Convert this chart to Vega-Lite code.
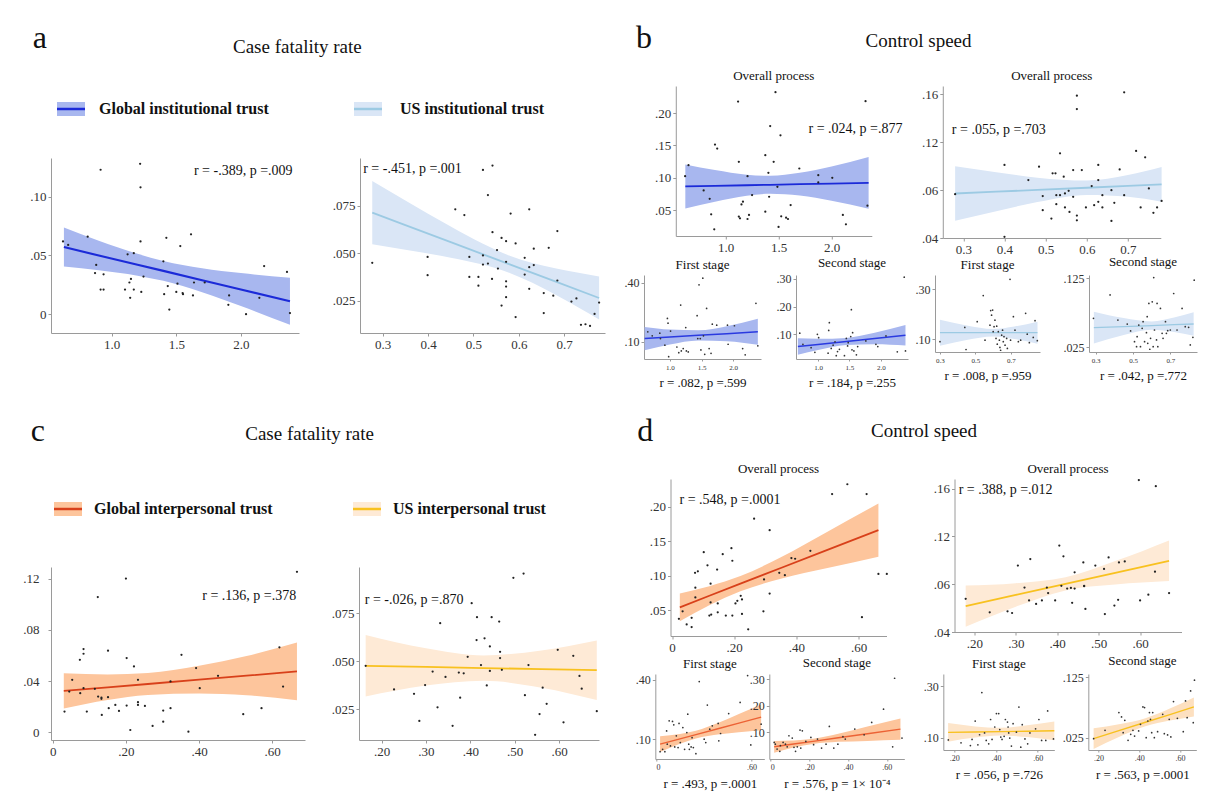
{
"$schema": "https://vega.github.io/schema/vega-lite/v6.json",
"background": "white",
"padding": {"left": 22, "top": 22, "right": 4, "bottom": 4},
"config": {
 "view": {"stroke": null},
 "font": "Liberation Serif",
 "axis": {"labelFont": "Liberation Serif", "labelFontSize": 13, "labelColor": "#333", "domainColor": "#9a9a9a", "tickColor": "#9a9a9a", "tickSize": 3, "labelPadding": 2, "grid": false, "titleFont": "Liberation Serif", "titleFontWeight": "normal", "titleColor": "#111", "titleFontSize": 13},
 "title": {"font": "Liberation Serif", "fontWeight": "normal", "color": "#111"},
 "text": {"font": "Liberation Serif"}
},
"datasets": {
 "a1b": [{"x":0.63,"lo":0.0406,"fit":0.0572,"hi":0.0738},{"x":0.9,"lo":0.0374,"fit":0.05,"hi":0.0626},{"x":1.2,"lo":0.0328,"fit":0.0421,"hi":0.0514},{"x":1.4,"lo":0.0284,"fit":0.0369,"hi":0.0454},{"x":1.7,"lo":0.0188,"fit":0.0289,"hi":0.0391},{"x":2.0,"lo":0.007,"fit":0.021,"hi":0.035},{"x":2.38,"lo":-0.009,"fit":0.011,"hi":0.031}],
 "a1p": [{"x":0.623,"y":0.062},{"x":0.663,"y":0.059},{"x":0.814,"y":0.066},{"x":0.914,"y":0.123},{"x":0.88,"y":0.042},{"x":0.871,"y":0.035},{"x":0.937,"y":0.034},{"x":0.914,"y":0.021},{"x":0.937,"y":0.021},{"x":1.103,"y":0.021},{"x":1.123,"y":0.051},{"x":1.137,"y":0.027},{"x":1.149,"y":0.03},{"x":1.143,"y":0.014},{"x":1.171,"y":0.021},{"x":1.171,"y":0.052},{"x":1.22,"y":0.128},{"x":1.223,"y":0.108},{"x":1.223,"y":0.062},{"x":1.229,"y":0.019},{"x":1.246,"y":0.032},{"x":1.4,"y":0.045},{"x":1.423,"y":0.065},{"x":1.406,"y":0.017},{"x":1.434,"y":0.024},{"x":1.446,"y":0.004},{"x":1.5,"y":0.019},{"x":1.509,"y":0.026},{"x":1.531,"y":0.058},{"x":1.549,"y":0.018},{"x":1.552,"y":0.017},{"x":1.614,"y":0.068},{"x":1.637,"y":0.027},{"x":1.629,"y":0.016},{"x":1.72,"y":0.027},{"x":1.903,"y":0.008},{"x":1.909,"y":0.016},{"x":2.04,"y":0.0},{"x":2.143,"y":0.014},{"x":2.18,"y":0.041},{"x":2.357,"y":0.036},{"x":2.38,"y":0.001}],
 "a2b": [{"x":0.277,"lo":0.0547,"fit":0.0713,"hi":0.0879},{"x":0.35,"lo":0.0518,"fit":0.0647,"hi":0.0777},{"x":0.45,"lo":0.0476,"fit":0.0558,"hi":0.064},{"x":0.52,"lo":0.044,"fit":0.0495,"hi":0.055},{"x":0.58,"lo":0.0396,"fit":0.0441,"hi":0.0486},{"x":0.63,"lo":0.0344,"fit":0.0396,"hi":0.0448},{"x":0.68,"lo":0.0282,"fit":0.0351,"hi":0.042},{"x":0.777,"lo":0.0151,"fit":0.0264,"hi":0.0377}],
 "a2p": [{"x":0.277,"y":0.0449},{"x":0.399,"y":0.048},{"x":0.399,"y":0.0384},{"x":0.46,"y":0.073},{"x":0.48,"y":0.07},{"x":0.491,"y":0.048},{"x":0.491,"y":0.0375},{"x":0.511,"y":0.0375},{"x":0.511,"y":0.0329},{"x":0.521,"y":0.0937},{"x":0.521,"y":0.0488},{"x":0.521,"y":0.044},{"x":0.532,"y":0.0805},{"x":0.532,"y":0.0445},{"x":0.541,"y":0.0364},{"x":0.542,"y":0.096},{"x":0.542,"y":0.061},{"x":0.552,"y":0.0516},{"x":0.554,"y":0.0419},{"x":0.562,"y":0.058},{"x":0.562,"y":0.0224},{"x":0.572,"y":0.0563},{"x":0.572,"y":0.0454},{"x":0.572,"y":0.0352},{"x":0.572,"y":0.0324},{"x":0.572,"y":0.0268},{"x":0.582,"y":0.0708},{"x":0.593,"y":0.0551},{"x":0.593,"y":0.0164},{"x":0.613,"y":0.0475},{"x":0.613,"y":0.0387},{"x":0.623,"y":0.073},{"x":0.623,"y":0.0426},{"x":0.623,"y":0.0312},{"x":0.633,"y":0.0523},{"x":0.633,"y":0.0437},{"x":0.655,"y":0.029},{"x":0.655,"y":0.0185},{"x":0.666,"y":0.0528},{"x":0.676,"y":0.0276},{"x":0.685,"y":0.0616},{"x":0.685,"y":0.0356},{"x":0.716,"y":0.0245},{"x":0.727,"y":0.0262},{"x":0.737,"y":0.0123},{"x":0.747,"y":0.0126},{"x":0.757,"y":0.0117},{"x":0.767,"y":0.018},{"x":0.777,"y":0.024}],
 "b1b": [{"x":0.62,"lo":0.0526,"fit":0.0866,"hi":0.1206},{"x":0.9,"lo":0.063,"fit":0.0875,"hi":0.112},{"x":1.2,"lo":0.0723,"fit":0.0885,"hi":0.1047},{"x":1.42,"lo":0.0754,"fit":0.0892,"hi":0.103},{"x":1.7,"lo":0.0726,"fit":0.0902,"hi":0.1078},{"x":2.0,"lo":0.0647,"fit":0.0911,"hi":0.1175},{"x":2.35,"lo":0.0523,"fit":0.0923,"hi":0.1323}],
 "b1p": [{"x":0.618,"y":0.1026},{"x":0.65,"y":0.1195},{"x":0.793,"y":0.0805},{"x":0.85,"y":0.0676},{"x":0.864,"y":0.0435},{"x":0.893,"y":0.0204},{"x":0.9,"y":0.1514},{"x":0.921,"y":0.1452},{"x":1.125,"y":0.1247},{"x":1.125,"y":0.04},{"x":1.118,"y":0.218},{"x":1.15,"y":0.0589},{"x":1.164,"y":0.063},{"x":1.136,"y":0.0373},{"x":1.207,"y":0.1026},{"x":1.221,"y":0.0425},{"x":1.207,"y":0.0363},{"x":1.25,"y":0.0733},{"x":1.375,"y":0.135},{"x":1.375,"y":0.0476},{"x":1.404,"y":0.1077},{"x":1.411,"y":0.0707},{"x":1.421,"y":0.18},{"x":1.454,"y":0.1247},{"x":1.471,"y":0.2325},{"x":1.489,"y":0.0861},{"x":1.518,"y":0.1657},{"x":1.525,"y":0.0404},{"x":1.5,"y":0.024},{"x":1.571,"y":0.0384},{"x":1.589,"y":0.0363},{"x":1.614,"y":0.0579},{"x":1.696,"y":0.1144},{"x":1.875,"y":0.1041},{"x":1.875,"y":0.0928},{"x":2.007,"y":0.1},{"x":2.107,"y":0.0425},{"x":2.136,"y":0.0281},{"x":2.321,"y":0.2186},{"x":2.339,"y":0.0569}],
 "b2b": [{"x":0.28,"lo":0.0544,"fit":0.0772,"hi":0.1},{"x":0.38,"lo":0.0624,"fit":0.0787,"hi":0.095},{"x":0.48,"lo":0.07,"fit":0.0802,"hi":0.0904},{"x":0.6,"lo":0.076,"fit":0.082,"hi":0.088},{"x":0.7,"lo":0.0745,"fit":0.0836,"hi":0.0927},{"x":0.782,"lo":0.0703,"fit":0.0848,"hi":0.0993}],
 "b2p": [{"x":0.28,"y":0.0766},{"x":0.4,"y":0.041},{"x":0.4,"y":0.101},{"x":0.458,"y":0.0884},{"x":0.484,"y":0.0996},{"x":0.493,"y":0.075},{"x":0.493,"y":0.0632},{"x":0.514,"y":0.0562},{"x":0.517,"y":0.094},{"x":0.524,"y":0.094},{"x":0.526,"y":0.0758},{"x":0.526,"y":0.0683},{"x":0.535,"y":0.1108},{"x":0.535,"y":0.0758},{"x":0.544,"y":0.0912},{"x":0.547,"y":0.0772},{"x":0.547,"y":0.0655},{"x":0.556,"y":0.0794},{"x":0.558,"y":0.0618},{"x":0.567,"y":0.0968},{"x":0.567,"y":0.0744},{"x":0.576,"y":0.1589},{"x":0.576,"y":0.1477},{"x":0.576,"y":0.0587},{"x":0.576,"y":0.0548},{"x":0.588,"y":0.0968},{"x":0.598,"y":0.0655},{"x":0.612,"y":0.0834},{"x":0.618,"y":0.0674},{"x":0.628,"y":0.101},{"x":0.628,"y":0.0884},{"x":0.628,"y":0.0702},{"x":0.638,"y":0.0758},{"x":0.638,"y":0.0655},{"x":0.66,"y":0.08},{"x":0.66,"y":0.0543},{"x":0.667,"y":0.0694},{"x":0.68,"y":0.0973},{"x":0.691,"y":0.1617},{"x":0.691,"y":0.0758},{"x":0.72,"y":0.1127},{"x":0.731,"y":0.0655},{"x":0.742,"y":0.1074},{"x":0.751,"y":0.0814},{"x":0.762,"y":0.061},{"x":0.771,"y":0.0655},{"x":0.782,"y":0.071}],
 "b3b": [{"x":0.6,"lo":0.058,"fit":0.117,"hi":0.176},{"x":1.0,"lo":0.0868,"fit":0.1248,"hi":0.1628},{"x":1.45,"lo":0.1073,"fit":0.1333,"hi":0.1593},{"x":1.9,"lo":0.1038,"fit":0.1418,"hi":0.1798},{"x":2.39,"lo":0.085,"fit":0.151,"hi":0.217}],
 "b3p": [{"x":0.65,"y":0.151},{"x":0.72,"y":0.131},{"x":0.84,"y":0.144},{"x":0.85,"y":0.117},{"x":0.92,"y":0.083},{"x":0.96,"y":0.219},{"x":0.97,"y":0.195},{"x":0.98,"y":0.025},{"x":1.01,"y":0.155},{"x":1.11,"y":0.074},{"x":1.14,"y":0.045},{"x":1.17,"y":0.287},{"x":1.18,"y":0.054},{"x":1.21,"y":0.066},{"x":1.25,"y":0.173},{"x":1.26,"y":0.054},{"x":1.29,"y":0.049},{"x":1.43,"y":0.233},{"x":1.44,"y":0.117},{"x":1.46,"y":0.39},{"x":1.48,"y":0.117},{"x":1.49,"y":0.059},{"x":1.52,"y":0.424},{"x":1.53,"y":0.131},{"x":1.55,"y":0.037},{"x":1.58,"y":0.27},{"x":1.62,"y":0.066},{"x":1.65,"y":0.042},{"x":1.67,"y":0.19},{"x":1.74,"y":0.185},{"x":1.91,"y":0.185},{"x":1.92,"y":0.088},{"x":2.02,"y":0.182},{"x":2.15,"y":0.066},{"x":2.19,"y":0.034},{"x":2.36,"y":0.296},{"x":2.39,"y":0.08}],
 "b4b": [{"x":0.68,"lo":0.026,"fit":0.056,"hi":0.086},{"x":1.0,"lo":0.0431,"fit":0.0636,"hi":0.0841},{"x":1.45,"lo":0.0612,"fit":0.0742,"hi":0.0872},{"x":1.9,"lo":0.0643,"fit":0.0848,"hi":0.1053},{"x":2.39,"lo":0.0594,"fit":0.0964,"hi":0.1334}],
 "b4p": [{"x":0.71,"y":0.104},{"x":0.76,"y":0.064},{"x":0.89,"y":0.052},{"x":0.95,"y":0.035},{"x":0.99,"y":0.1},{"x":1.01,"y":0.088},{"x":1.16,"y":0.032},{"x":1.17,"y":0.114},{"x":1.18,"y":0.142},{"x":1.21,"y":0.049},{"x":1.24,"y":0.061},{"x":1.27,"y":0.073},{"x":1.29,"y":0.023},{"x":1.31,"y":0.038},{"x":1.34,"y":0.046},{"x":1.42,"y":0.023},{"x":1.45,"y":0.085},{"x":1.47,"y":0.058},{"x":1.48,"y":0.07},{"x":1.52,"y":0.092},{"x":1.53,"y":0.189},{"x":1.54,"y":0.044},{"x":1.55,"y":0.106},{"x":1.57,"y":0.04},{"x":1.61,"y":0.026},{"x":1.63,"y":0.056},{"x":1.76,"y":0.076},{"x":1.92,"y":0.064},{"x":1.95,"y":0.056},{"x":2.08,"y":0.094},{"x":2.26,"y":0.037},{"x":2.37,"y":0.306},{"x":2.39,"y":0.04}],
 "b5b": [{"x":0.3,"lo":0.075,"fit":0.127,"hi":0.179},{"x":0.45,"lo":0.098,"fit":0.127,"hi":0.156},{"x":0.6,"lo":0.112,"fit":0.127,"hi":0.142},{"x":0.72,"lo":0.102,"fit":0.127,"hi":0.152},{"x":0.85,"lo":0.083,"fit":0.127,"hi":0.171}],
 "b5p": [{"x":0.3,"y":0.091},{"x":0.447,"y":0.06},{"x":0.44,"y":0.148},{"x":0.51,"y":0.171},{"x":0.544,"y":0.275},{"x":0.554,"y":0.097},{"x":0.582,"y":0.157},{"x":0.586,"y":0.215},{"x":0.591,"y":0.197},{"x":0.597,"y":0.217},{"x":0.6,"y":0.131},{"x":0.605,"y":0.151},{"x":0.61,"y":0.177},{"x":0.616,"y":0.104},{"x":0.62,"y":0.153},{"x":0.623,"y":0.081},{"x":0.629,"y":0.131},{"x":0.635,"y":0.097},{"x":0.638,"y":0.068},{"x":0.642,"y":0.057},{"x":0.648,"y":0.117},{"x":0.653,"y":0.137},{"x":0.657,"y":0.091},{"x":0.661,"y":0.111},{"x":0.667,"y":0.077},{"x":0.676,"y":0.104},{"x":0.68,"y":0.064},{"x":0.695,"y":0.34},{"x":0.698,"y":0.097},{"x":0.714,"y":0.191},{"x":0.723,"y":0.137},{"x":0.742,"y":0.091},{"x":0.755,"y":0.097},{"x":0.783,"y":0.204},{"x":0.792,"y":0.121},{"x":0.804,"y":0.087},{"x":0.826,"y":0.108},{"x":0.836,"y":0.175},{"x":0.849,"y":0.095}],
 "b6b": [{"x":0.29,"lo":0.0304,"fit":0.0534,"hi":0.0764},{"x":0.45,"lo":0.0427,"fit":0.055,"hi":0.0673},{"x":0.6,"lo":0.0505,"fit":0.0565,"hi":0.0625},{"x":0.72,"lo":0.0472,"fit":0.0577,"hi":0.0682},{"x":0.825,"lo":0.0415,"fit":0.0587,"hi":0.0759}],
 "b6p": [{"x":0.288,"y":0.067},{"x":0.377,"y":0.101},{"x":0.419,"y":0.0645},{"x":0.469,"y":0.0587},{"x":0.487,"y":0.0486},{"x":0.508,"y":0.033},{"x":0.519,"y":0.0258},{"x":0.522,"y":0.0403},{"x":0.531,"y":0.0572},{"x":0.54,"y":0.0258},{"x":0.549,"y":0.0524},{"x":0.554,"y":0.0621},{"x":0.562,"y":0.033},{"x":0.572,"y":0.0461},{"x":0.576,"y":0.0693},{"x":0.579,"y":0.0307},{"x":0.585,"y":0.0886},{"x":0.59,"y":0.022},{"x":0.594,"y":0.0379},{"x":0.603,"y":0.091},{"x":0.608,"y":0.0258},{"x":0.611,"y":0.1263},{"x":0.615,"y":0.05},{"x":0.626,"y":0.0355},{"x":0.629,"y":0.0886},{"x":0.633,"y":0.0258},{"x":0.647,"y":0.0814},{"x":0.656,"y":0.0452},{"x":0.661,"y":0.0379},{"x":0.674,"y":0.0621},{"x":0.679,"y":0.0452},{"x":0.686,"y":0.049},{"x":0.7,"y":0.05},{"x":0.718,"y":0.1031},{"x":0.736,"y":0.05},{"x":0.763,"y":0.0814},{"x":0.78,"y":0.0548},{"x":0.798,"y":0.0539},{"x":0.807,"y":0.0283},{"x":0.821,"y":0.0394},{"x":0.828,"y":0.1225}],
 "c1b": [{"x":0.03,"lo":0.0186,"fit":0.0323,"hi":0.046},{"x":0.15,"lo":0.0252,"fit":0.0351,"hi":0.0451},{"x":0.26,"lo":0.0292,"fit":0.0377,"hi":0.0462},{"x":0.4,"lo":0.0303,"fit":0.0411,"hi":0.0519},{"x":0.53,"lo":0.0289,"fit":0.0442,"hi":0.0595},{"x":0.668,"lo":0.025,"fit":0.0475,"hi":0.07}],
 "c1p": [{"x":0.032,"y":0.0162},{"x":0.045,"y":0.0318},{"x":0.053,"y":0.041},{"x":0.074,"y":0.0566},{"x":0.075,"y":0.0305},{"x":0.084,"y":0.065},{"x":0.084,"y":0.0613},{"x":0.084,"y":0.0344},{"x":0.093,"y":0.0162},{"x":0.115,"y":0.0339},{"x":0.123,"y":0.1055},{"x":0.124,"y":0.0279},{"x":0.133,"y":0.0271},{"x":0.133,"y":0.0261},{"x":0.134,"y":0.0136},{"x":0.151,"y":0.0637},{"x":0.151,"y":0.0274},{"x":0.153,"y":0.0188},{"x":0.171,"y":0.0214},{"x":0.181,"y":0.0167},{"x":0.2,"y":0.12},{"x":0.202,"y":0.0579},{"x":0.202,"y":0.0209},{"x":0.212,"y":0.0018},{"x":0.222,"y":0.0514},{"x":0.233,"y":0.041},{"x":0.233,"y":0.0235},{"x":0.233,"y":0.0214},{"x":0.252,"y":0.0206},{"x":0.273,"y":0.005},{"x":0.302,"y":0.017},{"x":0.302,"y":0.0083},{"x":0.322,"y":0.0397},{"x":0.322,"y":0.0188},{"x":0.352,"y":0.0605},{"x":0.371,"y":0.0005},{"x":0.392,"y":0.0501},{"x":0.402,"y":0.0344},{"x":0.452,"y":0.0441},{"x":0.521,"y":0.0141},{"x":0.571,"y":0.0188},{"x":0.62,"y":0.0663},{"x":0.63,"y":0.0357},{"x":0.668,"y":0.1252}],
 "c2b": [{"x":0.164,"lo":0.0316,"fit":0.0476,"hi":0.0636},{"x":0.3,"lo":0.0373,"fit":0.047,"hi":0.0567},{"x":0.43,"lo":0.0398,"fit":0.0464,"hi":0.053},{"x":0.56,"lo":0.0362,"fit":0.0459,"hi":0.0556},{"x":0.685,"lo":0.0298,"fit":0.0453,"hi":0.0608}],
 "c2p": [{"x":0.164,"y":0.0476},{"x":0.228,"y":0.0353},{"x":0.273,"y":0.033},{"x":0.285,"y":0.0189},{"x":0.298,"y":0.0376},{"x":0.315,"y":0.0446},{"x":0.326,"y":0.026},{"x":0.332,"y":0.0698},{"x":0.344,"y":0.0418},{"x":0.36,"y":0.0164},{"x":0.374,"y":0.0441},{"x":0.377,"y":0.031},{"x":0.385,"y":0.0437},{"x":0.394,"y":0.0523},{"x":0.403,"y":0.0802},{"x":0.414,"y":0.061},{"x":0.415,"y":0.0729},{"x":0.424,"y":0.048},{"x":0.432,"y":0.0619},{"x":0.437,"y":0.0374},{"x":0.444,"y":0.0577},{"x":0.444,"y":0.0449},{"x":0.448,"y":0.0729},{"x":0.465,"y":0.0706},{"x":0.467,"y":0.0549},{"x":0.467,"y":0.0516},{"x":0.471,"y":0.0455},{"x":0.497,"y":0.0934},{"x":0.52,"y":0.0956},{"x":0.523,"y":0.0323},{"x":0.531,"y":0.048},{"x":0.546,"y":0.0117},{"x":0.556,"y":0.0225},{"x":0.563,"y":0.0362},{"x":0.572,"y":0.0278},{"x":0.597,"y":0.0559},{"x":0.61,"y":0.0182},{"x":0.632,"y":0.0528},{"x":0.646,"y":0.0423},{"x":0.651,"y":0.0357},{"x":0.685,"y":0.024}],
 "d1b": [{"x":0.025,"lo":0.0345,"fit":0.0545,"hi":0.0745},{"x":0.12,"lo":0.0573,"fit":0.0712,"hi":0.0851},{"x":0.22,"lo":0.0776,"fit":0.0886,"hi":0.0996},{"x":0.35,"lo":0.0957,"fit":0.1113,"hi":0.1269},{"x":0.5,"lo":0.1112,"fit":0.1375,"hi":0.1638},{"x":0.664,"lo":0.1276,"fit":0.1661,"hi":0.2046}],
 "d1p": [{"x":0.022,"y":0.0378},{"x":0.034,"y":0.0487},{"x":0.047,"y":0.0298},{"x":0.063,"y":0.026},{"x":0.063,"y":0.0393},{"x":0.074,"y":0.1043},{"x":0.075,"y":0.0687},{"x":0.075,"y":0.0829},{"x":0.083,"y":0.1066},{"x":0.102,"y":0.1342},{"x":0.114,"y":0.1152},{"x":0.12,"y":0.0426},{"x":0.124,"y":0.0886},{"x":0.124,"y":0.0616},{"x":0.126,"y":0.044},{"x":0.145,"y":0.109},{"x":0.147,"y":0.0601},{"x":0.147,"y":0.0473},{"x":0.163,"y":0.1313},{"x":0.173,"y":0.0426},{"x":0.191,"y":0.1399},{"x":0.194,"y":0.1218},{"x":0.194,"y":0.0426},{"x":0.204,"y":0.0601},{"x":0.21,"y":0.0639},{"x":0.221,"y":0.0711},{"x":0.225,"y":0.0449},{"x":0.225,"y":0.0658},{"x":0.245,"y":0.0226},{"x":0.264,"y":0.1826},{"x":0.296,"y":0.0948},{"x":0.294,"y":0.0487},{"x":0.314,"y":0.166},{"x":0.314,"y":0.0744},{"x":0.345,"y":0.1043},{"x":0.363,"y":0.101},{"x":0.384,"y":0.1256},{"x":0.396,"y":0.1247},{"x":0.445,"y":0.1361},{"x":0.515,"y":0.2182},{"x":0.564,"y":0.2324},{"x":0.611,"y":0.0402},{"x":0.626,"y":0.2182},{"x":0.664,"y":0.1028},{"x":0.691,"y":0.1028}],
 "d2b": [{"x":0.179,"lo":0.0444,"fit":0.0616,"hi":0.0788},{"x":0.3,"lo":0.0612,"fit":0.071,"hi":0.0808},{"x":0.42,"lo":0.0748,"fit":0.0803,"hi":0.0858},{"x":0.54,"lo":0.0797,"fit":0.0895,"hi":0.0993},{"x":0.67,"lo":0.0826,"fit":0.0996,"hi":0.1166}],
 "d2p": [{"x":0.179,"y":0.0678},{"x":0.237,"y":0.0565},{"x":0.28,"y":0.0573},{"x":0.291,"y":0.0559},{"x":0.305,"y":0.0956},{"x":0.321,"y":0.0772},{"x":0.332,"y":0.0664},{"x":0.335,"y":0.101},{"x":0.349,"y":0.0635},{"x":0.363,"y":0.0664},{"x":0.375,"y":0.0772},{"x":0.378,"y":0.0726},{"x":0.395,"y":0.0664},{"x":0.405,"y":0.1123},{"x":0.41,"y":0.0786},{"x":0.415,"y":0.1033},{"x":0.424,"y":0.0763},{"x":0.433,"y":0.0769},{"x":0.436,"y":0.0644},{"x":0.442,"y":0.0899},{"x":0.442,"y":0.0763},{"x":0.463,"y":0.0982},{"x":0.465,"y":0.0786},{"x":0.465,"y":0.0783},{"x":0.468,"y":0.0593},{"x":0.492,"y":0.0956},{"x":0.513,"y":0.0928},{"x":0.515,"y":0.055},{"x":0.524,"y":0.1024},{"x":0.538,"y":0.0621},{"x":0.547,"y":0.0669},{"x":0.549,"y":0.0982},{"x":0.563,"y":0.099},{"x":0.597,"y":0.1671},{"x":0.6,"y":0.0664},{"x":0.62,"y":0.0712},{"x":0.636,"y":0.0905},{"x":0.638,"y":0.162},{"x":0.67,"y":0.0726}],
 "d3b": [{"x":0.025,"lo":0.035,"fit":0.075,"hi":0.115},{"x":0.15,"lo":0.0767,"fit":0.1019,"hi":0.1271},{"x":0.25,"lo":0.1034,"fit":0.1234,"hi":0.1434},{"x":0.4,"lo":0.1251,"fit":0.1556,"hi":0.1861},{"x":0.52,"lo":0.1353,"fit":0.1814,"hi":0.2275},{"x":0.66,"lo":0.1455,"fit":0.2115,"hi":0.2775}],
 "d3p": [{"x":0.025,"y":0.037},{"x":0.041,"y":0.049},{"x":0.055,"y":0.037},{"x":0.066,"y":0.142},{"x":0.07,"y":0.075},{"x":0.082,"y":0.193},{"x":0.09,"y":0.066},{"x":0.103,"y":0.19},{"x":0.111,"y":0.173},{"x":0.117,"y":0.061},{"x":0.127,"y":0.117},{"x":0.138,"y":0.058},{"x":0.144,"y":0.18},{"x":0.152,"y":0.083},{"x":0.168,"y":0.159},{"x":0.179,"y":0.049},{"x":0.193,"y":0.134},{"x":0.199,"y":0.227},{"x":0.205,"y":0.075},{"x":0.209,"y":0.049},{"x":0.22,"y":0.061},{"x":0.226,"y":0.108},{"x":0.234,"y":0.058},{"x":0.25,"y":0.027},{"x":0.271,"y":0.392},{"x":0.302,"y":0.1},{"x":0.312,"y":0.083},{"x":0.322,"y":0.273},{"x":0.337,"y":0.151},{"x":0.353,"y":0.168},{"x":0.39,"y":0.18},{"x":0.394,"y":0.092},{"x":0.405,"y":0.129},{"x":0.456,"y":0.23},{"x":0.528,"y":0.286},{"x":0.575,"y":0.422},{"x":0.595,"y":0.071},{"x":0.66,"y":0.176}],
 "d4b": [{"x":0.02,"lo":0.024,"fit":0.046,"hi":0.068},{"x":0.12,"lo":0.0429,"fit":0.0563,"hi":0.0697},{"x":0.22,"lo":0.0565,"fit":0.0665,"hi":0.0765},{"x":0.35,"lo":0.0645,"fit":0.0798,"hi":0.0951},{"x":0.5,"lo":0.0682,"fit":0.0951,"hi":0.122},{"x":0.67,"lo":0.0725,"fit":0.1125,"hi":0.1525}],
 "d4p": [{"x":0.02,"y":0.0625},{"x":0.026,"y":0.056},{"x":0.035,"y":0.0375},{"x":0.049,"y":0.029},{"x":0.052,"y":0.05},{"x":0.066,"y":0.0625},{"x":0.078,"y":0.056},{"x":0.087,"y":0.046},{"x":0.096,"y":0.0875},{"x":0.113,"y":0.079},{"x":0.122,"y":0.044},{"x":0.13,"y":0.029},{"x":0.139,"y":0.046},{"x":0.153,"y":0.109},{"x":0.157,"y":0.041},{"x":0.165,"y":0.106},{"x":0.183,"y":0.066},{"x":0.209,"y":0.081},{"x":0.223,"y":0.054},{"x":0.243,"y":0.075},{"x":0.264,"y":0.041},{"x":0.287,"y":0.056},{"x":0.304,"y":0.1225},{"x":0.327,"y":0.041},{"x":0.348,"y":0.056},{"x":0.374,"y":0.084},{"x":0.386,"y":0.075},{"x":0.435,"y":0.1125},{"x":0.483,"y":0.091},{"x":0.522,"y":0.1375},{"x":0.583,"y":0.1875},{"x":0.63,"y":0.046},{"x":0.64,"y":0.304},{"x":0.678,"y":0.079}],
 "d5b": [{"x":0.17,"lo":0.085,"fit":0.121,"hi":0.157},{"x":0.3,"lo":0.1009,"fit":0.1226,"hi":0.1443},{"x":0.42,"lo":0.109,"fit":0.124,"hi":0.139},{"x":0.55,"lo":0.1029,"fit":0.1256,"hi":0.1483},{"x":0.68,"lo":0.0912,"fit":0.1272,"hi":0.1632}],
 "d5p": [{"x":0.171,"y":0.092},{"x":0.232,"y":0.081},{"x":0.277,"y":0.07},{"x":0.285,"y":0.094},{"x":0.3,"y":0.165},{"x":0.313,"y":0.073},{"x":0.321,"y":0.112},{"x":0.332,"y":0.275},{"x":0.345,"y":0.119},{"x":0.353,"y":0.09},{"x":0.365,"y":0.077},{"x":0.374,"y":0.171},{"x":0.381,"y":0.094},{"x":0.394,"y":0.142},{"x":0.402,"y":0.194},{"x":0.413,"y":0.194},{"x":0.418,"y":0.132},{"x":0.423,"y":0.103},{"x":0.429,"y":0.094},{"x":0.439,"y":0.106},{"x":0.445,"y":0.171},{"x":0.455,"y":0.161},{"x":0.458,"y":0.142},{"x":0.461,"y":0.119},{"x":0.466,"y":0.099},{"x":0.474,"y":0.068},{"x":0.482,"y":0.155},{"x":0.498,"y":0.122},{"x":0.51,"y":0.219},{"x":0.519,"y":0.064},{"x":0.526,"y":0.151},{"x":0.539,"y":0.096},{"x":0.552,"y":0.077},{"x":0.563,"y":0.119},{"x":0.59,"y":0.135},{"x":0.606,"y":0.171},{"x":0.619,"y":0.09},{"x":0.639,"y":0.09},{"x":0.648,"y":0.204},{"x":0.676,"y":0.096}],
 "d6b": [{"x":0.176,"lo":0.0066,"fit":0.0236,"hi":0.0406},{"x":0.3,"lo":0.0264,"fit":0.0368,"hi":0.0472},{"x":0.43,"lo":0.044,"fit":0.0506,"hi":0.0572},{"x":0.55,"lo":0.0534,"fit":0.0633,"hi":0.0732},{"x":0.668,"lo":0.0603,"fit":0.0758,"hi":0.0913}],
 "d6p": [{"x":0.176,"y":0.0236},{"x":0.232,"y":0.0374},{"x":0.3,"y":0.0665},{"x":0.313,"y":0.0593},{"x":0.321,"y":0.0335},{"x":0.329,"y":0.0538},{"x":0.345,"y":0.0209},{"x":0.358,"y":0.0308},{"x":0.369,"y":0.0374},{"x":0.377,"y":0.028},{"x":0.397,"y":0.0363},{"x":0.406,"y":0.0473},{"x":0.418,"y":0.0758},{"x":0.426,"y":0.0747},{"x":0.434,"y":0.0253},{"x":0.442,"y":0.0527},{"x":0.45,"y":0.0665},{"x":0.455,"y":0.0555},{"x":0.461,"y":0.0335},{"x":0.466,"y":0.0665},{"x":0.474,"y":0.0253},{"x":0.49,"y":0.0352},{"x":0.515,"y":0.0637},{"x":0.523,"y":0.0319},{"x":0.539,"y":0.0297},{"x":0.547,"y":0.0555},{"x":0.555,"y":0.0264},{"x":0.568,"y":0.0846},{"x":0.587,"y":0.0571},{"x":0.616,"y":0.0352},{"x":0.627,"y":0.0857},{"x":0.635,"y":0.0582},{"x":0.652,"y":0.1022},{"x":0.665,"y":0.05},{"x":0.671,"y":0.1198}]
},
"vconcat": [
 {"hconcat": [
  {"title": {"text": "a", "anchor": "start", "fontSize": 32, "offset": -17, "dx": 3},
   "vconcat": [
    {"title": {"text": "Case fatality rate", "anchor": "middle", "fontSize": 19, "offset": 29, "dx": -20},
     "columns": 2, "bounds": "flush", "spacing": {"row": 26, "column": 61},
     "concat": [
      {"width": 40, "height": 46, "data": {"values": [{"k": "Global institutional trust"}]},
       "layer": [
        {"mark": {"type": "point", "shape": "M-1,-0.5H1V0.5H-1Z", "size": 784, "filled": true, "opacity": 1, "color": "#a8b7ef"}},
        {"mark": {"type": "point", "shape": "M-1,0H1", "size": 784, "filled": false, "opacity": 1, "strokeWidth": 2.5, "color": "#1b2ad8"}},
        {"mark": {"type": "text", "align": "left", "baseline": "middle", "dx": 28, "fontSize": 16, "fontWeight": "bold", "color": "#111"}, "encoding": {"text": {"field": "k"}}}
       ]},
      {"width": 16, "height": 46, "data": {"values": [{"k": "US institutional trust"}]},
       "layer": [
        {"mark": {"type": "point", "shape": "M-1,-0.5H1V0.5H-1Z", "size": 784, "filled": true, "opacity": 1, "color": "#dae6f6"}},
        {"mark": {"type": "point", "shape": "M-1,0H1", "size": 784, "filled": false, "opacity": 1, "strokeWidth": 2.5, "color": "#9ccae3"}},
        {"mark": {"type": "text", "align": "left", "baseline": "middle", "dx": 32, "fontSize": 16, "fontWeight": "bold", "color": "#111"}, "encoding": {"text": {"field": "k"}}}
       ]},
      {"width": 248, "height": 175,
       "layer": [
        {"data": {"name": "a1b"}, "mark": {"type": "area", "color": "#a8b7ef", "opacity": 1, "interpolate": "monotone"},
         "encoding": {"x": {"field": "x", "type": "quantitative", "scale": {"domain": [0.53, 2.45], "nice": false, "zero": false}, "axis": {"values": [1, 1.5, 2], "format": ".1f", "title": null}},
          "y": {"field": "lo", "type": "quantitative", "scale": {"domain": [-0.016, 0.133], "nice": false, "zero": false}, "axis": {"values": [0, 0.05, 0.1], "format": ".2f", "labelExpr": "datum.value == 0 ? '0' : replace(datum.label, '0.', '.')", "title": null}},
          "y2": {"field": "hi"}}},
        {"data": {"name": "a1b"}, "mark": {"type": "line", "color": "#1b2ad8", "strokeWidth": 2.2}, "encoding": {"x": {"field": "x", "type": "quantitative", "title": null}, "y": {"field": "fit", "type": "quantitative", "title": null}}},
        {"data": {"name": "a1p"}, "mark": {"type": "circle", "color": "#222", "size": 5, "opacity": 1}, "encoding": {"x": {"field": "x", "type": "quantitative", "title": null}, "y": {"field": "y", "type": "quantitative", "title": null}}},
        {"data": {"values": [{"t": "r = -.389, p =.009"}]}, "mark": {"type": "text", "align": "right", "baseline": "middle", "fontSize": 14, "color": "#111"}, "encoding": {"x": {"datum": 2.4, "title": null}, "y": {"datum": 0.122, "title": null}, "text": {"field": "t"}}}
       ]},
      {"width": 245, "height": 175,
       "layer": [
        {"data": {"name": "a2b"}, "mark": {"type": "area", "color": "#dae6f6", "opacity": 1, "interpolate": "monotone"},
         "encoding": {"x": {"field": "x", "type": "quantitative", "scale": {"domain": [0.25, 0.79], "nice": false, "zero": false}, "axis": {"values": [0.3, 0.4, 0.5, 0.6, 0.7], "format": ".1f", "title": null}},
          "y": {"field": "lo", "type": "quantitative", "scale": {"domain": [0.008, 0.1], "nice": false, "zero": false}, "axis": {"values": [0.025, 0.05, 0.075], "format": ".3f", "labelExpr": "replace(datum.label, '0.', '.')", "title": null}},
          "y2": {"field": "hi"}}},
        {"data": {"name": "a2b"}, "mark": {"type": "line", "color": "#9ccae3", "strokeWidth": 1.8}, "encoding": {"x": {"field": "x", "type": "quantitative", "title": null}, "y": {"field": "fit", "type": "quantitative", "title": null}}},
        {"data": {"name": "a2p"}, "mark": {"type": "circle", "color": "#222", "size": 5, "opacity": 1}, "encoding": {"x": {"field": "x", "type": "quantitative", "title": null}, "y": {"field": "y", "type": "quantitative", "title": null}}},
        {"data": {"values": [{"t": "r = -.451, p =.001"}]}, "mark": {"type": "text", "align": "left", "baseline": "middle", "fontSize": 14, "color": "#111"}, "encoding": {"x": {"datum": 0.257, "title": null}, "y": {"datum": 0.094, "title": null}, "text": {"field": "t"}}}
       ]}
     ]}
   ]},
  {"title": {"text": "b", "anchor": "start", "fontSize": 32, "offset": -23, "dx": 12},
   "vconcat": [
    {"title": {"text": "Control speed", "anchor": "middle", "fontSize": 19, "offset": 19, "dx": 8},
     "center": {"column": true}, "spacing": 0,
     "vconcat": [
      {"bounds": "flush", "spacing": 71,
       "hconcat": [
        {"width": 196, "height": 150, "title": {"text": "Overall process", "fontSize": 13, "offset": 3},
         "layer": [
          {"data": {"name": "b1b"}, "mark": {"type": "area", "color": "#a8b7ef", "opacity": 1, "interpolate": "monotone"},
           "encoding": {"x": {"field": "x", "type": "quantitative", "scale": {"domain": [0.53, 2.38], "nice": false, "zero": false}, "axis": {"values": [1, 1.5, 2], "format": ".1f", "title": null}},
            "y": {"field": "lo", "type": "quantitative", "scale": {"domain": [0.01, 0.242], "nice": false, "zero": false}, "axis": {"values": [0.05, 0.1, 0.15, 0.2], "format": ".2f", "labelExpr": "replace(datum.label, '0.', '.')", "title": null}},
            "y2": {"field": "hi"}}},
          {"data": {"name": "b1b"}, "mark": {"type": "line", "color": "#1b2ad8", "strokeWidth": 1.8}, "encoding": {"x": {"field": "x", "type": "quantitative", "title": null}, "y": {"field": "fit", "type": "quantitative", "title": null}}},
          {"data": {"name": "b1p"}, "mark": {"type": "circle", "color": "#222", "size": 5, "opacity": 1}, "encoding": {"x": {"field": "x", "type": "quantitative", "title": null}, "y": {"field": "y", "type": "quantitative", "title": null}}},
          {"data": {"values": [{"t": "r = .024, p =.877"}]}, "mark": {"type": "text", "align": "right", "baseline": "middle", "fontSize": 14, "color": "#111"}, "encoding": {"x": {"datum": 2.67, "title": null}, "y": {"datum": 0.175, "title": null}, "text": {"field": "t"}}}
         ]},
        {"width": 218, "height": 152, "title": {"text": "Overall process", "fontSize": 13, "offset": 3},
         "layer": [
          {"data": {"name": "b2b"}, "mark": {"type": "area", "color": "#dae6f6", "opacity": 1, "interpolate": "monotone"},
           "encoding": {"x": {"field": "x", "type": "quantitative", "scale": {"domain": [0.25, 0.78], "nice": false, "zero": false}, "axis": {"values": [0.3, 0.4, 0.5, 0.6, 0.7], "format": ".1f", "title": null}},
            "y": {"field": "lo", "type": "quantitative", "scale": {"domain": [0.04, 0.167], "nice": false, "zero": false}, "axis": {"values": [0.04, 0.08, 0.12, 0.16], "format": ".2f", "labelExpr": "datum.value == 0.08 ? '.06' : replace(datum.label, '0.', '.')", "title": null}},
            "y2": {"field": "hi"}}},
          {"data": {"name": "b2b"}, "mark": {"type": "line", "color": "#9ccae3", "strokeWidth": 1.8}, "encoding": {"x": {"field": "x", "type": "quantitative", "title": null}, "y": {"field": "fit", "type": "quantitative", "title": null}}},
          {"data": {"name": "b2p"}, "mark": {"type": "circle", "color": "#222", "size": 5, "opacity": 1}, "encoding": {"x": {"field": "x", "type": "quantitative", "title": null}, "y": {"field": "y", "type": "quantitative", "title": null}}},
          {"data": {"values": [{"t": "r = .055, p =.703"}]}, "mark": {"type": "text", "align": "left", "baseline": "middle", "fontSize": 14, "color": "#111"}, "encoding": {"x": {"datum": 0.272, "title": null}, "y": {"datum": 0.13, "title": null}, "text": {"field": "t"}}}
         ]}
       ]},
      {"spacing": 6,
       "hconcat": [
        {"bounds": "flush", "spacing": 35,
         "hconcat": [
          {"width": 117, "height": 84, "title": {"text": "First stage", "fontSize": 13, "offset": 3},
           "layer": [
            {"data": {"name": "b3b"}, "mark": {"type": "area", "color": "#a8b7ef", "opacity": 1, "interpolate": "monotone"},
             "encoding": {"x": {"field": "x", "type": "quantitative", "scale": {"domain": [0.59, 2.44], "nice": false, "zero": false}, "axis": {"values": [1, 1.5, 2], "format": ".1f", "labelFontSize": 7, "tickSize": 2, "title": "r = .082, p =.599", "titlePadding": 6}},
              "y": {"field": "lo", "type": "quantitative", "scale": {"domain": [0.013, 0.44], "nice": false, "zero": false}, "axis": {"values": [0.1, 0.2, 0.3, 0.4], "format": ".2f", "labelFontSize": 12, "labelExpr": "replace(datum.label, '0.', '.')", "title": null}},
              "y2": {"field": "hi"}}},
            {"data": {"name": "b3b"}, "mark": {"type": "line", "color": "#2a3ae0", "strokeWidth": 1.5}, "encoding": {"x": {"field": "x", "type": "quantitative"}, "y": {"field": "fit", "type": "quantitative", "title": null}}},
            {"data": {"name": "b3p"}, "mark": {"type": "circle", "color": "#333", "size": 3, "opacity": 1}, "encoding": {"x": {"field": "x", "type": "quantitative"}, "y": {"field": "y", "type": "quantitative", "title": null}}}
           ]},
          {"width": 112, "height": 84, "title": {"text": "Second stage", "fontSize": 13, "offset": 3},
           "layer": [
            {"data": {"name": "b4b"}, "mark": {"type": "area", "color": "#a8b7ef", "opacity": 1, "interpolate": "monotone"},
             "encoding": {"x": {"field": "x", "type": "quantitative", "scale": {"domain": [0.65, 2.43], "nice": false, "zero": false}, "axis": {"values": [1, 1.5, 2], "format": ".1f", "labelFontSize": 7, "tickSize": 2, "title": "r = .184, p =.255", "titlePadding": 6}},
              "y": {"field": "lo", "type": "quantitative", "scale": {"domain": [0.011, 0.314], "nice": false, "zero": false}, "axis": {"values": [0.1, 0.2, 0.3], "format": ".2f", "labelFontSize": 12, "labelExpr": "replace(datum.label, '0.', '.')", "title": null}},
              "y2": {"field": "hi"}}},
            {"data": {"name": "b4b"}, "mark": {"type": "line", "color": "#2a3ae0", "strokeWidth": 1.5}, "encoding": {"x": {"field": "x", "type": "quantitative"}, "y": {"field": "fit", "type": "quantitative", "title": null}}},
            {"data": {"name": "b4p"}, "mark": {"type": "circle", "color": "#333", "size": 3, "opacity": 1}, "encoding": {"x": {"field": "x", "type": "quantitative"}, "y": {"field": "y", "type": "quantitative", "title": null}}}
           ]}
         ]},
        {"bounds": "flush", "spacing": 49,
         "hconcat": [
          {"width": 105, "height": 77, "title": {"text": "First stage", "fontSize": 13, "offset": 3},
           "layer": [
            {"data": {"name": "b5b"}, "mark": {"type": "area", "color": "#dae6f6", "opacity": 1, "interpolate": "monotone"},
             "encoding": {"x": {"field": "x", "type": "quantitative", "scale": {"domain": [0.272, 0.864], "nice": false, "zero": false}, "axis": {"values": [0.3, 0.4, 0.5, 0.6, 0.7], "format": ".1f", "labelFontSize": 7, "tickSize": 2, "title": "r = .008, p =.959", "titlePadding": 6}},
              "y": {"field": "lo", "type": "quantitative", "scale": {"domain": [0.05, 0.357], "nice": false, "zero": false}, "axis": {"values": [0.1, 0.2, 0.3], "format": ".2f", "labelFontSize": 12, "labelExpr": "replace(datum.label, '0.', '.')", "title": null}},
              "y2": {"field": "hi"}}},
            {"data": {"name": "b5b"}, "mark": {"type": "line", "color": "#9ccae3", "strokeWidth": 1.3}, "encoding": {"x": {"field": "x", "type": "quantitative"}, "y": {"field": "fit", "type": "quantitative", "title": null}}},
            {"data": {"name": "b5p"}, "mark": {"type": "circle", "color": "#333", "size": 3, "opacity": 1}, "encoding": {"x": {"field": "x", "type": "quantitative"}, "y": {"field": "y", "type": "quantitative", "title": null}}}
           ]},
          {"width": 108, "height": 77, "title": {"text": "Second stage", "fontSize": 13, "offset": 3},
           "layer": [
            {"data": {"name": "b6b"}, "mark": {"type": "area", "color": "#dae6f6", "opacity": 1, "interpolate": "monotone"},
             "encoding": {"x": {"field": "x", "type": "quantitative", "scale": {"domain": [0.264, 0.843], "nice": false, "zero": false}, "axis": {"values": [0.3, 0.4, 0.5, 0.6, 0.7], "format": ".1f", "labelFontSize": 7, "tickSize": 2, "title": "r = .042, p =.772", "titlePadding": 6}},
              "y": {"field": "lo", "type": "quantitative", "scale": {"domain": [0.018, 0.13], "nice": false, "zero": false}, "axis": {"values": [0.025, 0.05, 0.075, 0.1, 0.125], "format": ".3f", "labelFontSize": 12, "labelExpr": "replace(datum.label, '0.', '.')", "title": null}},
              "y2": {"field": "hi"}}},
            {"data": {"name": "b6b"}, "mark": {"type": "line", "color": "#9ccae3", "strokeWidth": 1.3}, "encoding": {"x": {"field": "x", "type": "quantitative"}, "y": {"field": "fit", "type": "quantitative", "title": null}}},
            {"data": {"name": "b6p"}, "mark": {"type": "circle", "color": "#333", "size": 3, "opacity": 1}, "encoding": {"x": {"field": "x", "type": "quantitative"}, "y": {"field": "y", "type": "quantitative", "title": null}}}
           ]}
         ]}
       ]}
     ]}
   ]}
 ], "spacing": 19},
 {"hconcat": [
  {"title": {"text": "c", "anchor": "start", "fontSize": 32, "offset": -23, "dx": 8},
   "vconcat": [
    {"title": {"text": "Case fatality rate", "anchor": "middle", "fontSize": 19, "offset": 35, "dx": -2},
     "columns": 2, "bounds": "flush", "spacing": {"row": 28, "column": 54},
     "concat": [
      {"width": 34, "height": 60, "data": {"values": [{"k": "Global interpersonal trust"}]},
       "layer": [
        {"mark": {"type": "point", "shape": "M-1,-0.5H1V0.5H-1Z", "size": 784, "filled": true, "opacity": 1, "color": "#fdc59c"}},
        {"mark": {"type": "point", "shape": "M-1,0H1", "size": 784, "filled": false, "opacity": 1, "strokeWidth": 2.5, "color": "#d8401a"}},
        {"mark": {"type": "text", "align": "left", "baseline": "middle", "dx": 26, "fontSize": 16, "fontWeight": "bold", "color": "#111"}, "encoding": {"text": {"field": "k"}}}
       ]},
      {"width": 16, "height": 60, "data": {"values": [{"k": "US interpersonal trust"}]},
       "layer": [
        {"mark": {"type": "point", "shape": "M-1,-0.5H1V0.5H-1Z", "size": 784, "filled": true, "opacity": 1, "color": "#feead6"}},
        {"mark": {"type": "point", "shape": "M-1,0H1", "size": 784, "filled": false, "opacity": 1, "strokeWidth": 2.5, "color": "#f8c11f"}},
        {"mark": {"type": "text", "align": "left", "baseline": "middle", "dx": 26, "fontSize": 16, "fontWeight": "bold", "color": "#111"}, "encoding": {"text": {"field": "k"}}}
       ]},
      {"width": 254, "height": 173,
       "layer": [
        {"data": {"name": "c1b"}, "mark": {"type": "area", "color": "#fdc59c", "opacity": 1, "interpolate": "monotone"},
         "encoding": {"x": {"field": "x", "type": "quantitative", "scale": {"domain": [-0.005, 0.69], "nice": false, "zero": false}, "axis": {"values": [0, 0.2, 0.4, 0.6], "format": ".2f", "labelExpr": "datum.value == 0 ? '0' : replace(datum.label, '0.', '.')", "title": null}},
          "y": {"field": "lo", "type": "quantitative", "scale": {"domain": [-0.006, 0.129], "nice": false, "zero": false}, "axis": {"values": [0, 0.04, 0.08, 0.12], "format": ".2f", "labelPadding": 9, "labelExpr": "datum.value == 0 ? '0' : replace(datum.label, '0.', '.')", "title": null}},
          "y2": {"field": "hi"}}},
        {"data": {"name": "c1b"}, "mark": {"type": "line", "color": "#d8401a", "strokeWidth": 1.8}, "encoding": {"x": {"field": "x", "type": "quantitative", "title": null}, "y": {"field": "fit", "type": "quantitative", "title": null}}},
        {"data": {"name": "c1p"}, "mark": {"type": "circle", "color": "#222", "size": 5, "opacity": 1}, "encoding": {"x": {"field": "x", "type": "quantitative", "title": null}, "y": {"field": "y", "type": "quantitative", "title": null}}},
        {"data": {"values": [{"t": "r = .136, p =.378"}]}, "mark": {"type": "text", "align": "right", "baseline": "middle", "fontSize": 14, "color": "#111"}, "encoding": {"x": {"datum": 0.666, "title": null}, "y": {"datum": 0.1067, "title": null}, "text": {"field": "t"}}}
       ]},
      {"width": 240, "height": 173,
       "layer": [
        {"data": {"name": "c2b"}, "mark": {"type": "area", "color": "#feead6", "opacity": 1, "interpolate": "monotone"},
         "encoding": {"x": {"field": "x", "type": "quantitative", "scale": {"domain": [0.149, 0.69], "nice": false, "zero": false}, "axis": {"values": [0.2, 0.3, 0.4, 0.5, 0.6], "format": ".2f", "labelExpr": "replace(datum.label, '0.', '.')", "title": null}},
          "y": {"field": "lo", "type": "quantitative", "scale": {"domain": [0.009, 0.099], "nice": false, "zero": false}, "axis": {"values": [0.025, 0.05, 0.075], "format": ".3f", "labelExpr": "replace(datum.label, '0.', '.')", "title": null}},
          "y2": {"field": "hi"}}},
        {"data": {"name": "c2b"}, "mark": {"type": "line", "color": "#f8c11f", "strokeWidth": 1.8}, "encoding": {"x": {"field": "x", "type": "quantitative", "title": null}, "y": {"field": "fit", "type": "quantitative", "title": null}}},
        {"data": {"name": "c2p"}, "mark": {"type": "circle", "color": "#222", "size": 5, "opacity": 1}, "encoding": {"x": {"field": "x", "type": "quantitative", "title": null}, "y": {"field": "y", "type": "quantitative", "title": null}}},
        {"data": {"values": [{"t": "r = -.026, p =.870"}]}, "mark": {"type": "text", "align": "left", "baseline": "middle", "fontSize": 14, "color": "#111"}, "encoding": {"x": {"datum": 0.162, "title": null}, "y": {"datum": 0.0818, "title": null}, "text": {"field": "t"}}}
       ]}
     ]}
   ]},
  {"title": {"text": "d", "anchor": "start", "fontSize": 32, "offset": -26, "dx": 2},
   "vconcat": [
    {"title": {"text": "Control speed", "anchor": "middle", "fontSize": 19, "offset": 22, "dx": 8},
     "center": {"column": true}, "spacing": 1,
     "vconcat": [
      {"bounds": "flush", "spacing": 68,
       "hconcat": [
        {"width": 216, "height": 157, "title": {"text": "Overall process", "fontSize": 13, "offset": 3},
         "layer": [
          {"data": {"name": "d1b"}, "mark": {"type": "area", "color": "#fdc59c", "opacity": 1, "interpolate": "monotone"},
           "encoding": {"x": {"field": "x", "type": "quantitative", "scale": {"domain": [-0.005, 0.69], "nice": false, "zero": false}, "axis": {"values": [0, 0.2, 0.4, 0.6], "format": ".2f", "labelExpr": "datum.value == 0 ? '0' : replace(datum.label, '0.', '.')", "title": null}},
            "y": {"field": "lo", "type": "quantitative", "scale": {"domain": [0.013, 0.24], "nice": false, "zero": false}, "axis": {"values": [0.05, 0.1, 0.15, 0.2], "format": ".2f", "labelExpr": "replace(datum.label, '0.', '.')", "title": null}},
            "y2": {"field": "hi"}}},
          {"data": {"name": "d1b"}, "mark": {"type": "line", "color": "#d8401a", "strokeWidth": 1.8}, "encoding": {"x": {"field": "x", "type": "quantitative", "title": null}, "y": {"field": "fit", "type": "quantitative", "title": null}}},
          {"data": {"name": "d1p"}, "mark": {"type": "circle", "color": "#222", "size": 5, "opacity": 1}, "encoding": {"x": {"field": "x", "type": "quantitative", "title": null}, "y": {"field": "y", "type": "quantitative", "title": null}}},
          {"data": {"values": [{"t": "r = .548, p =.0001"}]}, "mark": {"type": "text", "align": "left", "baseline": "middle", "fontSize": 14, "color": "#111"}, "encoding": {"x": {"datum": 0.024, "title": null}, "y": {"datum": 0.21, "title": null}, "text": {"field": "t"}}}
         ]},
        {"width": 227, "height": 153, "title": {"text": "Overall process", "fontSize": 13, "offset": 3},
         "layer": [
          {"data": {"name": "d2b"}, "mark": {"type": "area", "color": "#feead6", "opacity": 1, "interpolate": "monotone"},
           "encoding": {"x": {"field": "x", "type": "quantitative", "scale": {"domain": [0.152, 0.7], "nice": false, "zero": false}, "axis": {"values": [0.2, 0.3, 0.4, 0.5, 0.6], "format": ".2f", "labelExpr": "replace(datum.label, '0.', '.')", "title": null}},
            "y": {"field": "lo", "type": "quantitative", "scale": {"domain": [0.04, 0.168], "nice": false, "zero": false}, "axis": {"values": [0.04, 0.08, 0.12, 0.16], "format": ".2f", "labelExpr": "datum.value == 0.08 ? '.06' : replace(datum.label, '0.', '.')", "title": null}},
            "y2": {"field": "hi"}}},
          {"data": {"name": "d2b"}, "mark": {"type": "line", "color": "#f8c11f", "strokeWidth": 1.8}, "encoding": {"x": {"field": "x", "type": "quantitative", "title": null}, "y": {"field": "fit", "type": "quantitative", "title": null}}},
          {"data": {"name": "d2p"}, "mark": {"type": "circle", "color": "#222", "size": 5, "opacity": 1}, "encoding": {"x": {"field": "x", "type": "quantitative", "title": null}, "y": {"field": "y", "type": "quantitative", "title": null}}},
          {"data": {"values": [{"t": "r = .388, p =.012"}]}, "mark": {"type": "text", "align": "left", "baseline": "middle", "fontSize": 14, "color": "#111"}, "encoding": {"x": {"datum": 0.162, "title": null}, "y": {"datum": 0.159, "title": null}, "text": {"field": "t"}}}
         ]}
       ]},
      {"spacing": 19,
       "hconcat": [
        {"bounds": "flush", "spacing": 5,
         "hconcat": [
          {"width": 109, "height": 85, "title": {"text": "First stage", "fontSize": 13, "offset": 3},
           "layer": [
            {"data": {"name": "d3b"}, "mark": {"type": "area", "color": "#fdc59c", "opacity": 1, "interpolate": "monotone"},
             "encoding": {"x": {"field": "x", "type": "quantitative", "scale": {"domain": [-0.005, 0.68], "nice": false, "zero": false}, "axis": {"values": [0, 0.2, 0.4, 0.6], "format": ".2f", "labelExpr": "datum.value == 0 ? '0' : replace(datum.label, '0.', '.')", "labelFontSize": 8, "tickSize": 2, "title": "r = .493, p =.0001", "titlePadding": 6}},
              "y": {"field": "lo", "type": "quantitative", "scale": {"domain": [0.0, 0.43], "nice": false, "zero": false}, "axis": {"values": [0.1, 0.2, 0.3, 0.4], "format": ".2f", "labelFontSize": 12, "labelExpr": "replace(datum.label, '0.', '.')", "title": null}},
              "y2": {"field": "hi"}}},
            {"data": {"name": "d3b"}, "mark": {"type": "line", "color": "#ec6235", "strokeWidth": 1.4}, "encoding": {"x": {"field": "x", "type": "quantitative"}, "y": {"field": "fit", "type": "quantitative", "title": null}}},
            {"data": {"name": "d3p"}, "mark": {"type": "circle", "color": "#333", "size": 3, "opacity": 1}, "encoding": {"x": {"field": "x", "type": "quantitative"}, "y": {"field": "y", "type": "quantitative", "title": null}}}
           ]},
          {"width": 135, "height": 85, "title": {"text": "Second stage", "fontSize": 13, "offset": 3},
           "layer": [
            {"data": {"name": "d4b"}, "mark": {"type": "area", "color": "#fdc59c", "opacity": 1, "interpolate": "monotone"},
             "encoding": {"x": {"field": "x", "type": "quantitative", "scale": {"domain": [-0.005, 0.69], "nice": false, "zero": false}, "axis": {"values": [0, 0.2, 0.4, 0.6], "format": ".2f", "labelExpr": "datum.value == 0 ? '0' : replace(datum.label, '0.', '.')", "labelFontSize": 8, "tickSize": 2, "title": "r = .576, p = 1× 10⁻⁴", "titlePadding": 6}},
              "y": {"field": "lo", "type": "quantitative", "scale": {"domain": [0.0, 0.32], "nice": false, "zero": false}, "axis": {"values": [0.1, 0.2, 0.3], "format": ".2f", "labelFontSize": 12, "labelExpr": "replace(datum.label, '0.', '.')", "title": null}},
              "y2": {"field": "hi"}}},
            {"data": {"name": "d4b"}, "mark": {"type": "line", "color": "#ec6235", "strokeWidth": 1.4}, "encoding": {"x": {"field": "x", "type": "quantitative"}, "y": {"field": "fit", "type": "quantitative", "title": null}}},
            {"data": {"name": "d4p"}, "mark": {"type": "circle", "color": "#333", "size": 3, "opacity": 1}, "encoding": {"x": {"field": "x", "type": "quantitative"}, "y": {"field": "y", "type": "quantitative", "title": null}}}
           ]}
         ]},
        {"bounds": "flush", "spacing": 34,
         "hconcat": [
          {"width": 111, "height": 76, "title": {"text": "First stage", "fontSize": 13, "offset": 3},
           "layer": [
            {"data": {"name": "d5b"}, "mark": {"type": "area", "color": "#fde5ca", "opacity": 1, "interpolate": "monotone"},
             "encoding": {"x": {"field": "x", "type": "quantitative", "scale": {"domain": [0.147, 0.68], "nice": false, "zero": false}, "axis": {"values": [0.2, 0.3, 0.4, 0.5, 0.6], "format": ".2f", "labelExpr": "replace(datum.label, '0.', '.')", "labelFontSize": 8, "tickSize": 2, "title": "r = .056, p =.726", "titlePadding": 6}},
              "y": {"field": "lo", "type": "quantitative", "scale": {"domain": [0.053, 0.347], "nice": false, "zero": false}, "axis": {"values": [0.1, 0.2, 0.3], "format": ".2f", "labelFontSize": 12, "labelExpr": "replace(datum.label, '0.', '.')", "title": null}},
              "y2": {"field": "hi"}}},
            {"data": {"name": "d5b"}, "mark": {"type": "line", "color": "#f8c11f", "strokeWidth": 1.4}, "encoding": {"x": {"field": "x", "type": "quantitative"}, "y": {"field": "fit", "type": "quantitative", "title": null}}},
            {"data": {"name": "d5p"}, "mark": {"type": "circle", "color": "#333", "size": 3, "opacity": 1}, "encoding": {"x": {"field": "x", "type": "quantitative"}, "y": {"field": "y", "type": "quantitative", "title": null}}}
           ]},
          {"width": 108, "height": 76, "title": {"text": "Second stage", "fontSize": 13, "offset": 3},
           "layer": [
            {"data": {"name": "d6b"}, "mark": {"type": "area", "color": "#fde0c0", "opacity": 1, "interpolate": "monotone"},
             "encoding": {"x": {"field": "x", "type": "quantitative", "scale": {"domain": [0.15, 0.68], "nice": false, "zero": false}, "axis": {"values": [0.2, 0.3, 0.4, 0.5, 0.6], "format": ".2f", "labelExpr": "replace(datum.label, '0.', '.')", "labelFontSize": 8, "tickSize": 2, "title": "r = .563, p =.0001", "titlePadding": 6}},
              "y": {"field": "lo", "type": "quantitative", "scale": {"domain": [0.005, 0.13], "nice": false, "zero": false}, "axis": {"values": [0.025, 0.05, 0.075, 0.1, 0.125], "format": ".3f", "labelFontSize": 12, "labelExpr": "replace(datum.label, '0.', '.')", "title": null}},
              "y2": {"field": "hi"}}},
            {"data": {"name": "d6b"}, "mark": {"type": "line", "color": "#f8c11f", "strokeWidth": 1.4}, "encoding": {"x": {"field": "x", "type": "quantitative"}, "y": {"field": "fit", "type": "quantitative", "title": null}}},
            {"data": {"name": "d6p"}, "mark": {"type": "circle", "color": "#333", "size": 3, "opacity": 1}, "encoding": {"x": {"field": "x", "type": "quantitative"}, "y": {"field": "y", "type": "quantitative", "title": null}}}
           ]}
         ]}
       ]}
     ]}
   ]}
 ], "spacing": 34}
],
"spacing": 25
}
